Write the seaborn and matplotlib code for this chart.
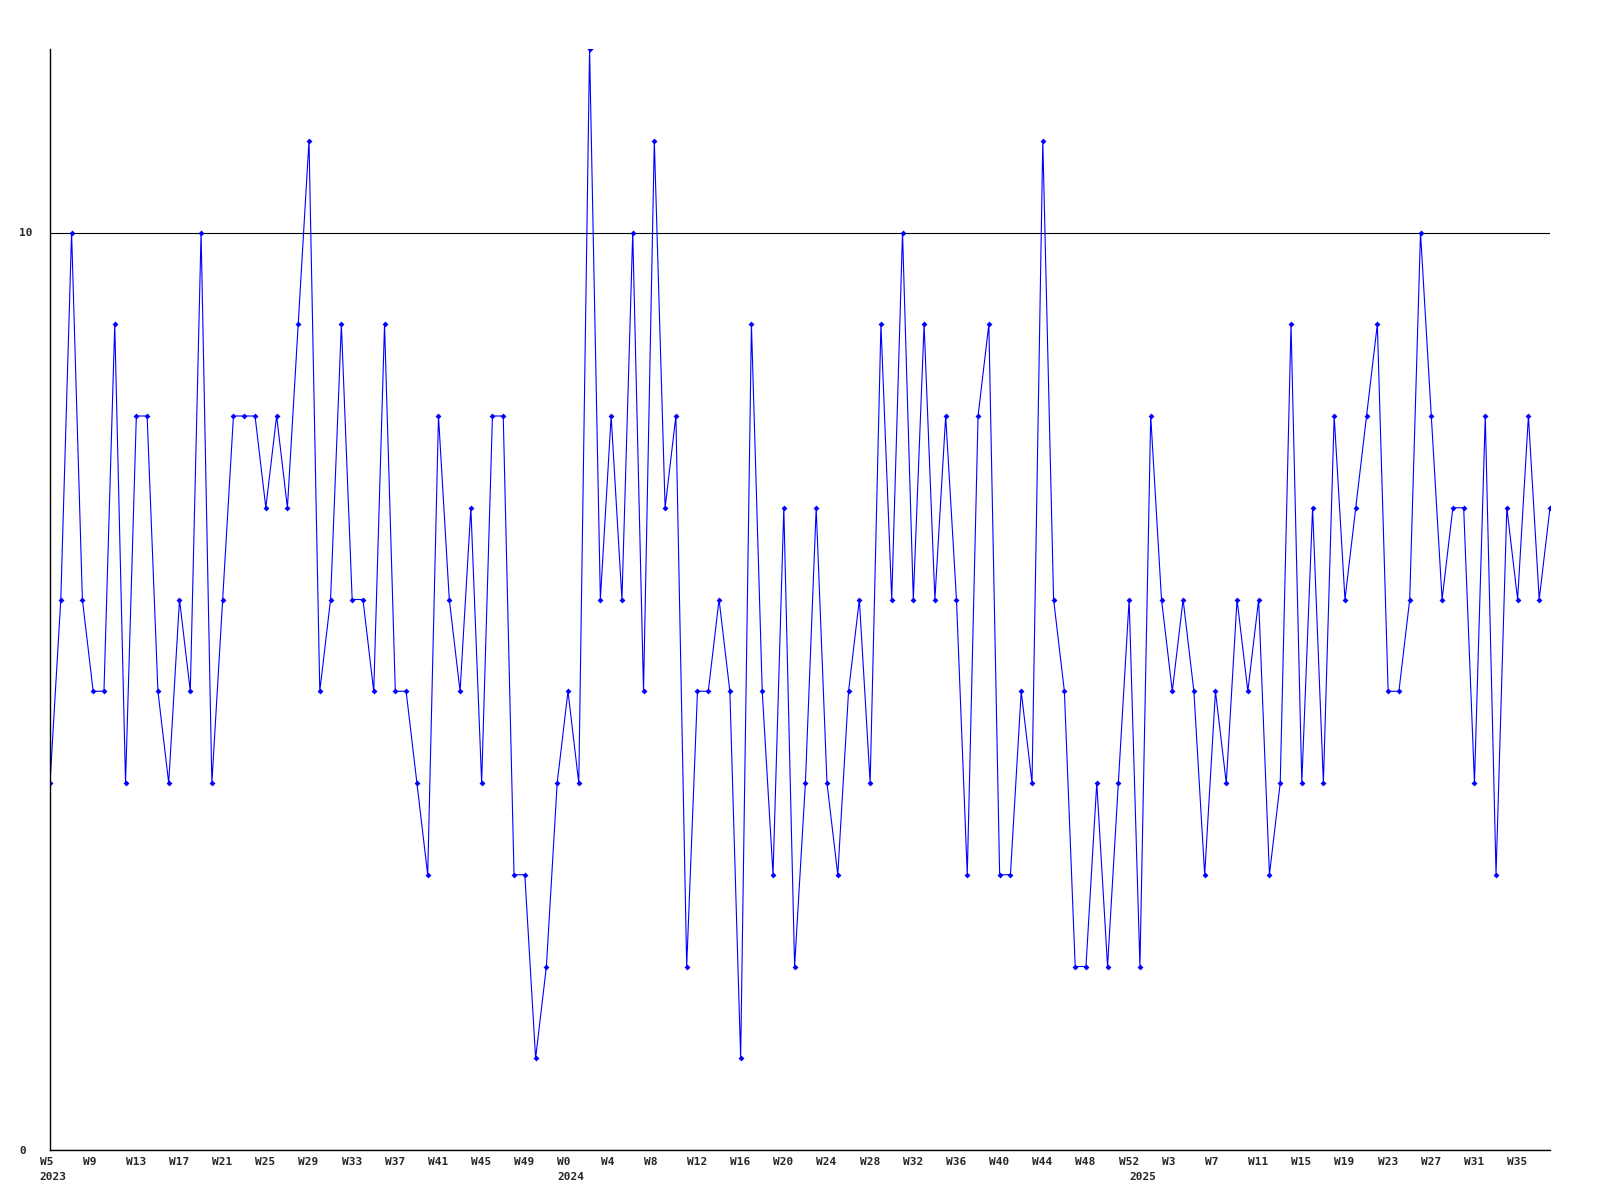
import seaborn as sns
import pandas as pd
import matplotlib
matplotlib.use('Agg')
import matplotlib.pyplot as plt
import matplotlib.transforms as mtransforms

# weekly counts, W5 2023 .. W38 2025
values = [4, 6, 10, 6, 5, 5, 9, 4, 8, 8,
          5, 4, 6, 5, 10, 4, 6, 8, 8, 8,
          7, 8, 7, 9, 11, 5, 6, 9, 6, 6,
          5, 9, 5, 5, 4, 3, 8, 6, 5, 7,
          4, 8, 8, 3, 3, 1, 2, 4, 5, 4,
          12, 6, 8, 6, 10, 5, 11, 7, 8, 2,
          5, 5, 6, 5, 1, 9, 5, 3, 7, 2,
          4, 7, 4, 3, 5, 6, 4, 9, 6, 10,
          6, 9, 6, 8, 6, 3, 8, 9, 3, 3,
          5, 4, 11, 6, 5, 2, 2, 4, 2, 4,
          6, 2, 8, 6, 5, 6, 5, 3, 5, 4,
          6, 5, 6, 3, 4, 9, 4, 7, 4, 8,
          6, 7, 8, 9, 5, 5, 6, 10, 8, 6,
          7, 7, 4, 8, 3, 7, 6, 8, 6, 7]

# (year, first week, last week)
periods = [(2023, 5, 52), (2024, 0, 52), (2025, 0, 38)]

years = []
weeks = []
for yr, w0, w1 in periods:
    for w in range(w0, w1 + 1):
        years.append(yr)
        weeks.append(w)

df = pd.DataFrame({'idx': range(len(values)), 'year': years, 'week': weeks, 'count': values})

sns.set_style('white')
plt.rcParams['font.family'] = ['DejaVu Sans Mono']

fig = plt.figure(figsize=(16, 12), dpi=100)
ax = fig.add_axes([50 / 1600, 1 - 1150 / 1200, 1500 / 1600, 1101 / 1200])

sns.lineplot(data=df, x='idx', y='count', color='#0000ff', linewidth=0.8,
             marker='D', markersize=3, markeredgewidth=0, ax=ax)

ax.set_xlim(0, len(values) - 1)
ax.set_ylim(0, 12)

ax.tick_params(axis='y', length=0, pad=22.3)
ax.tick_params(axis='x', which='major', length=0, pad=5)
ax.tick_params(axis='x', which='minor', length=0, pad=15.8)

# x ticks every 4 weeks
tick_pos = list(range(0, len(values), 4))
ax.set_xticks(tick_pos)
ax.set_xticklabels(['W%d' % weeks[p] for p in tick_pos], fontsize=8,
                   fontweight='bold', ha='left')

# year label under the first week of each year
year_pos = df.groupby('year')['idx'].min()
ax.xaxis.remove_overlapping_locs = False
ax.set_xticks(list(year_pos.values), minor=True)
ax.set_xticklabels([str(y) for y in year_pos.index], minor=True, fontsize=8,
                   fontweight='bold', ha='left')

offset = mtransforms.ScaledTranslation(-10.5 / 100, 0, fig.dpi_scale_trans)
for lab in ax.get_xticklabels(which='both'):
    lab.set_transform(lab.get_transform() + offset)

ax.set_yticks([0, 10])
ax.set_yticklabels(['0', '10'], fontsize=8, fontweight='bold', ha='left')

ax.yaxis.grid(True, color='black', linewidth=0.8)
ax.set_axisbelow(True)

for s in ['top', 'right']:
    ax.spines[s].set_visible(False)
for s in ['left', 'bottom']:
    ax.spines[s].set_color('black')
    ax.spines[s].set_linewidth(1.0)

ax.set_xlabel('')
ax.set_ylabel('')

fig.savefig('out.png', dpi=100, facecolor='white')
